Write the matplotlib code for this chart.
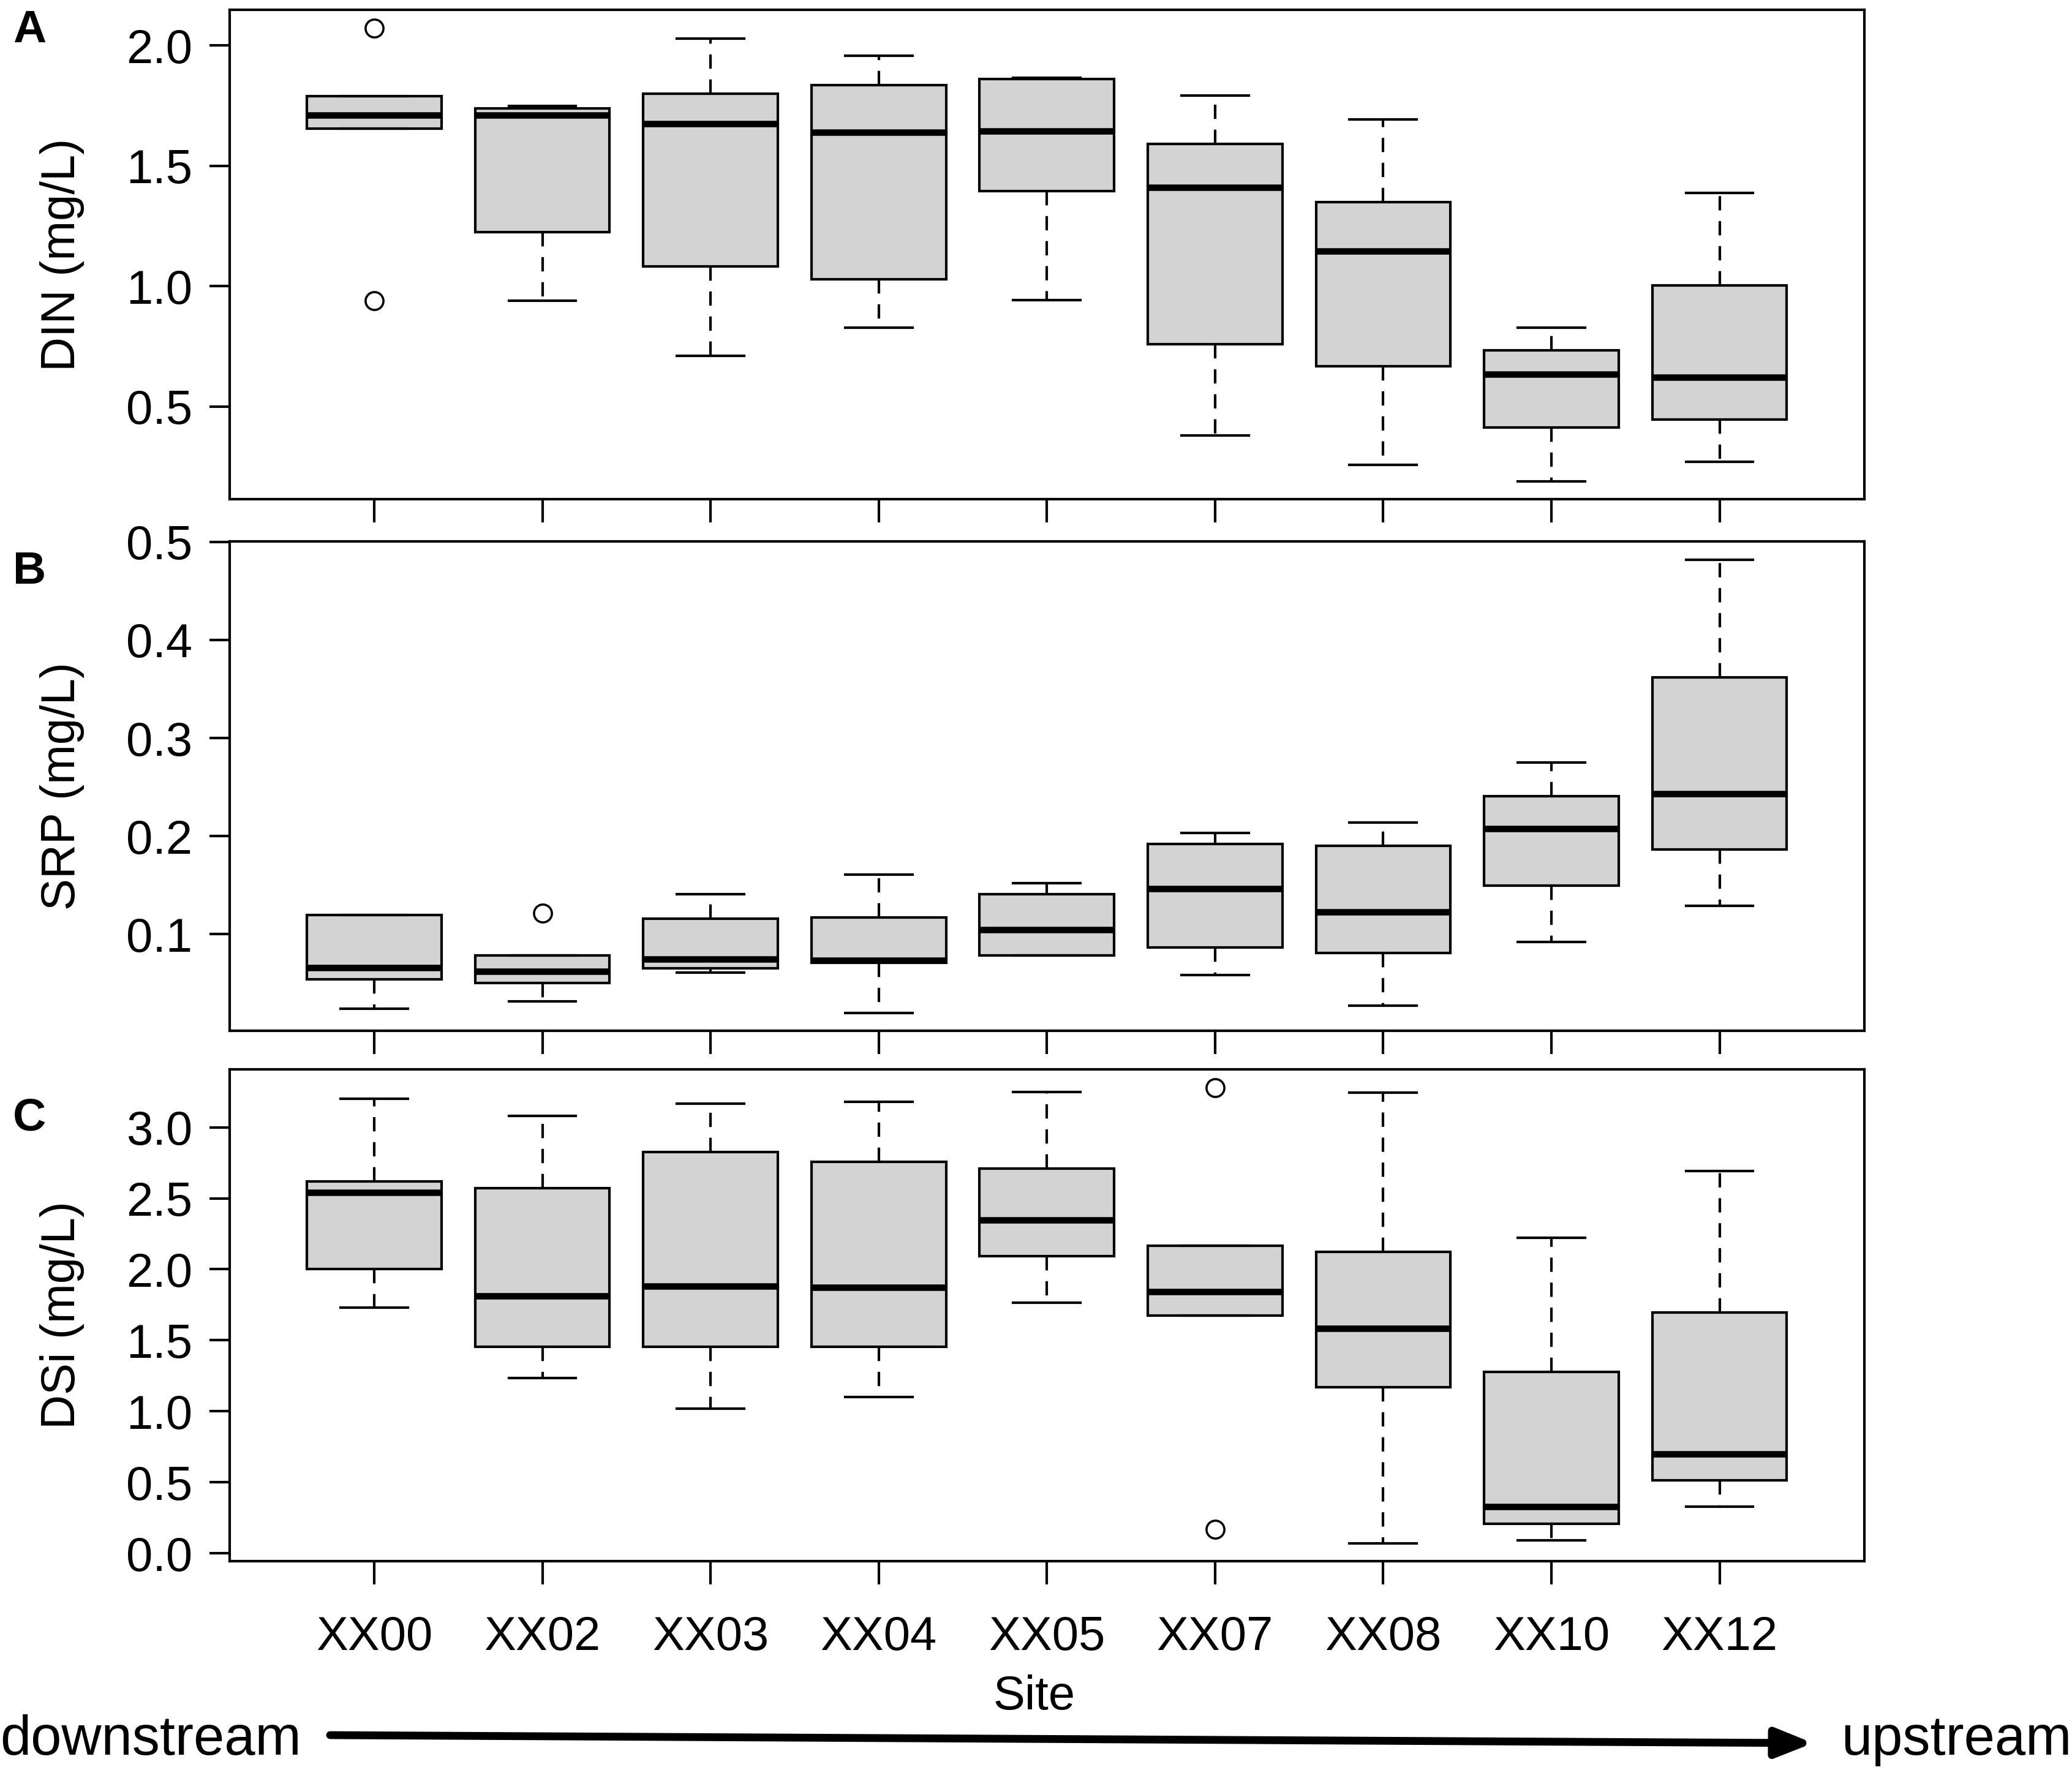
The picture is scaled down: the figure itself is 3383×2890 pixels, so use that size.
import matplotlib
matplotlib.use("Agg")
import matplotlib.pyplot as plt

plt.rcParams['font.family'] = ['Liberation Sans', 'DejaVu Sans']

# sites, ordered downstream -> upstream
sites = ["XX00", "XX02", "XX03", "XX04", "XX05", "XX07", "XX08", "XX10", "XX12"]

# Panel A: DIN (mg/L)
din_whishi = [1.790, 1.748, 2.028, 1.958, 1.865, 1.792, 1.693, 0.827, 1.386]
din_q3 = [1.790, 1.738, 1.798, 1.835, 1.861, 1.590, 1.349, 0.732, 1.004]
din_med = [1.710, 1.709, 1.675, 1.639, 1.644, 1.410, 1.145, 0.635, 0.621]
din_q1 = [1.655, 1.223, 1.081, 1.029, 1.395, 0.758, 0.668, 0.412, 0.446]
din_whislo = [1.655, 0.939, 0.711, 0.827, 0.941, 0.379, 0.258, 0.190, 0.271]
din_fliers = [[2.071, 0.940], [], [], [], [], [], [], [], []]

# Panel B: SRP (mg/L)
srp_whishi = [0.1194, 0.0783, 0.141, 0.161, 0.152, 0.203, 0.214, 0.275, 0.482]
srp_q3 = [0.1194, 0.0783, 0.116, 0.117, 0.141, 0.192, 0.190, 0.241, 0.362]
srp_med = [0.0659, 0.0619, 0.0743, 0.0733, 0.1047, 0.1467, 0.1224, 0.2078, 0.2429]
srp_q1 = [0.0539, 0.0499, 0.0653, 0.0710, 0.0786, 0.0863, 0.0810, 0.1497, 0.1861]
srp_whislo = [0.0239, 0.0312, 0.0609, 0.0199, 0.0780, 0.0583, 0.0269, 0.092, 0.1287]
srp_fliers = [[], [0.1217], [], [], [], [], [], [], []]

# Panel C: DSi (mg/L)
dsi_whishi = [3.203, 3.082, 3.168, 3.178, 3.250, 2.166, 3.245, 2.222, 2.694]
dsi_q3 = [2.617, 2.572, 2.827, 2.755, 2.710, 2.166, 2.124, 1.276, 1.694]
dsi_med = [2.540, 1.813, 1.881, 1.874, 2.348, 1.841, 1.582, 0.329, 0.699]
dsi_q1 = [2.000, 1.453, 1.456, 1.453, 2.093, 1.675, 1.168, 0.208, 0.514]
dsi_whislo = [1.729, 1.236, 1.019, 1.100, 1.764, 1.675, 0.070, 0.089, 0.329]
dsi_fliers = [[], [], [], [], [], [3.280, 0.168], [], [], []]

din_ticks = [0.5, 1.0, 1.5, 2.0]
srp_ticks = [0.1, 0.2, 0.3, 0.4, 0.5]
dsi_ticks = [0.0, 0.5, 1.0, 1.5, 2.0, 2.5, 3.0]


def make_stats(whislo, q1, med, q3, whishi, fliers):
    return [dict(whislo=a, q1=b, med=c, q3=d, whishi=e, fliers=f)
            for a, b, c, d, e, f in zip(whislo, q1, med, q3, whishi, fliers)]


panels = [
    ("A", "DIN (mg/L)", make_stats(din_whislo, din_q1, din_med, din_q3, din_whishi, din_fliers),
     din_ticks, (0.115, 2.148), [0.1108, 0.7180, 0.7889, 0.2765]),
    ("B", "SRP (mg/L)", make_stats(srp_whislo, srp_q1, srp_med, srp_q3, srp_whishi, srp_fliers),
     srp_ticks, (0.0014, 0.5005), [0.1108, 0.4176, 0.7889, 0.2765]),
    ("C", "DSi (mg/L)", make_stats(dsi_whislo, dsi_q1, dsi_med, dsi_q3, dsi_whishi, dsi_fliers),
     dsi_ticks, (-0.056, 3.409), [0.1108, 0.1180, 0.7889, 0.2779]),
]

fig = plt.figure(figsize=(16.915, 14.45), dpi=200)
positions = list(range(1, len(sites) + 1))
lw = 1.5

for i, (letter, ylab, stats, yticks, ylim, rect) in enumerate(panels):
    ax = fig.add_axes(rect)
    ax.bxp(stats, positions=positions, widths=0.8, capwidths=0.4,
           patch_artist=True, showfliers=True,
           boxprops=dict(facecolor="#d3d3d3", edgecolor="black", linewidth=lw),
           medianprops=dict(color="black", linewidth=3.8, solid_capstyle="butt"),
           whiskerprops=dict(color="black", linewidth=lw, linestyle=(0, (5.6, 4.2))),
           capprops=dict(color="black", linewidth=lw),
           flierprops=dict(marker="o", markerfacecolor="none", markeredgecolor="black",
                           markersize=10.5, markeredgewidth=1.3, linestyle="none"))
    ax.set_xlim(0.14, 9.86)
    ax.set_ylim(*ylim)
    ax.set_yticks(yticks)
    ax.set_yticklabels([f"{t:.1f}" for t in yticks])
    ax.set_xticks(positions)
    if i == 2:
        ax.set_xticklabels(sites)
    else:
        ax.set_xticklabels([])
    ax.tick_params(axis="y", direction="out", length=11.9, width=lw, pad=10, labelsize=28)
    ax.tick_params(axis="x", direction="out", length=13.7, width=lw, pad=18, labelsize=28)
    for sp in ax.spines.values():
        sp.set_linewidth(1.5)
    # y label
    yc = rect[1] + rect[3] / 2
    fig.text(0.030, yc, ylab, rotation=90, ha="center", va="center", fontsize=28)

# panel letters
fig.text(0.0142, 0.983, "A", ha="center", va="center", fontsize=27, fontweight="bold")
fig.text(0.0142, 0.677, "B", ha="center", va="center", fontsize=27, fontweight="bold")
fig.text(0.0142, 0.368, "C", ha="center", va="center", fontsize=27, fontweight="bold")

fig.text(0.499, 0.0415, "Site", ha="center", va="center", fontsize=28)
fig.text(0.0, 0.0087, "downstream", ha="left", va="baseline", fontsize=32.5)
fig.text(1.0, 0.0087, "upstream", ha="right", va="baseline", fontsize=32.5)
fig.add_artist(matplotlib.patches.FancyArrowPatch(
    (0.1593, 0.0197), (0.875, 0.0152), transform=fig.transFigure,
    arrowstyle="-|>,head_length=0.45,head_width=0.18", mutation_scale=40,
    linewidth=4.6, color="black", shrinkA=0, shrinkB=0))

fig.savefig("out.png", dpi=200)
